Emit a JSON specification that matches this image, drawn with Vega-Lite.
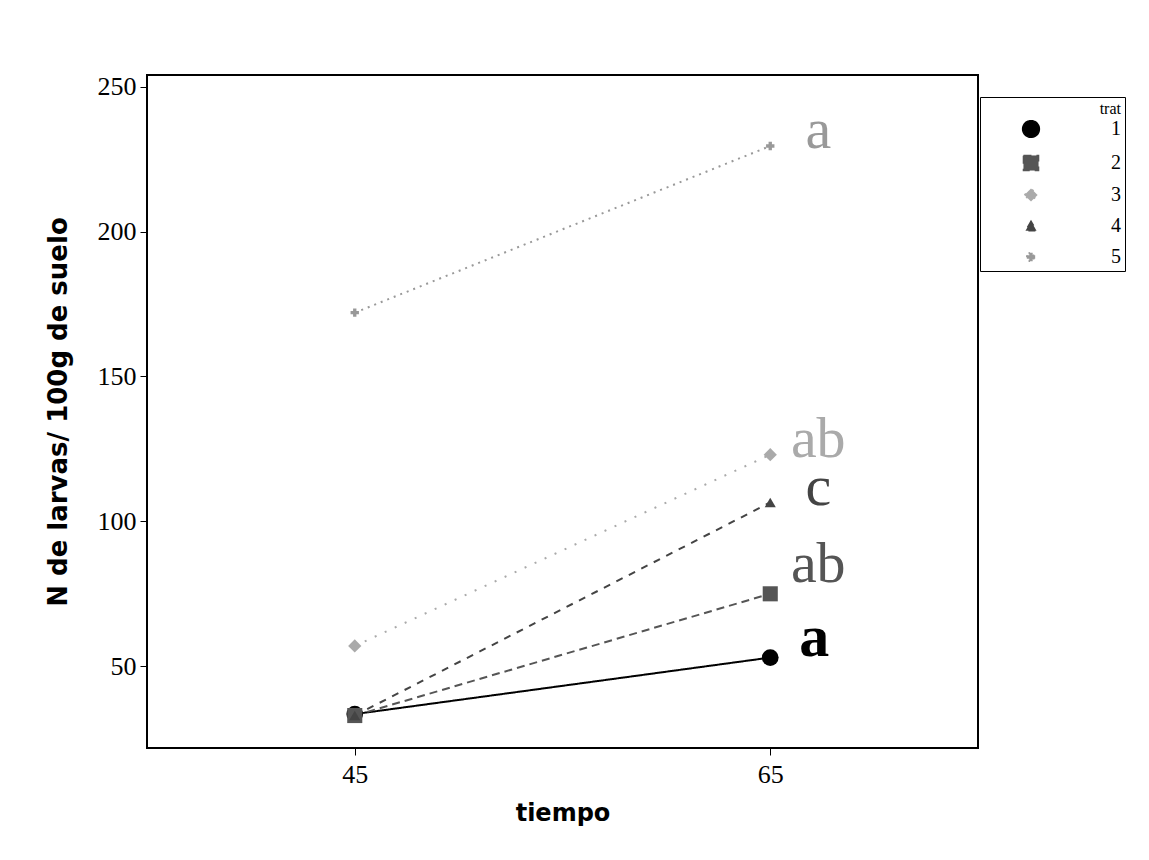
{
  "$schema": "https://vega.github.io/schema/vega-lite/v6.json",
  "autosize": {"type": "none"},
  "width": 831,
  "height": 673,
  "padding": {"left": 147, "top": 75, "right": 171, "bottom": 112},
  "background": "white",
  "config": {
    "view": {"stroke": "#000", "strokeWidth": 2},
    "axis": {
      "grid": false,
      "domain": false,
      "tickColor": "#000",
      "tickSize": 7,
      "labelFont": "Liberation Serif",
      "labelFontSize": 26,
      "labelColor": "#000",
      "titleFont": "DejaVu Sans",
      "titleFontWeight": "bold",
      "titleColor": "#000"
    }
  },
  "data": {
    "values": [
      {"tiempo": 45, "larvas": 33.5, "trat": "1", "letra": ""},
      {"tiempo": 65, "larvas": 53, "trat": "1", "letra": "a"},
      {"tiempo": 45, "larvas": 33, "trat": "2", "letra": ""},
      {"tiempo": 65, "larvas": 75, "trat": "2", "letra": "ab"},
      {"tiempo": 45, "larvas": 57, "trat": "3", "letra": ""},
      {"tiempo": 65, "larvas": 123, "trat": "3", "letra": "ab"},
      {"tiempo": 45, "larvas": 33, "trat": "4", "letra": ""},
      {"tiempo": 65, "larvas": 106.5, "trat": "4", "letra": "c"},
      {"tiempo": 45, "larvas": 172, "trat": "5", "letra": ""},
      {"tiempo": 65, "larvas": 229.5, "trat": "5", "letra": "a"}
    ]
  },
  "encoding": {
    "x": {
      "field": "tiempo",
      "type": "quantitative",
      "scale": {"domain": [35, 75], "nice": false, "zero": false},
      "axis": {"values": [45, 65], "title": "tiempo", "titleFontSize": 24, "labelPadding": 6, "titlePadding": 14}
    },
    "y": {
      "field": "larvas",
      "type": "quantitative",
      "scale": {"domain": [21.8, 254], "nice": false, "zero": false},
      "axis": {"values": [50, 100, 150, 200, 250], "title": "N de larvas/ 100g de suelo", "titleFontSize": 26, "labelPadding": 4, "titlePadding": 26}
    },
    "color": {
      "field": "trat",
      "type": "nominal",
      "scale": {"domain": ["1", "2", "3", "4", "5"], "range": ["#000000", "#555555", "#aaaaaa", "#444444", "#999999"]},
      "legend": {
        "title": "trat",
        "orient": "none",
        "legendX": 833,
        "legendY": 22,
        "strokeColor": "#000",
        "fillColor": "white",
        "padding": 4,
        "titlePadding": 2,
        "titleAnchor": "end",
        "titleFont": "Liberation Serif",
        "titleFontSize": 16,
        "titleFontWeight": "normal",
        "labelFont": "Liberation Serif",
        "labelFontSize": 20,
        "labelColor": "#000",
        "rowPadding": 11,
        "symbolOffset": 37,
        "labelOffset": 70,
        "symbolSize": 160,
        "symbolStrokeWidth": 1.5
      }
    }
  },
  "layer": [
    {
      "mark": {"type": "line", "strokeWidth": 2},
      "encoding": {
        "strokeDash": {
          "field": "trat",
          "type": "nominal",
          "scale": {"domain": ["1", "2", "3", "4", "5"], "range": [[1, 0], [8, 5], [2, 9], [7, 7], [2, 5]]},
          "legend": null
        }
      }
    },
    {
      "mark": {"type": "point", "filled": true, "opacity": 1},
      "encoding": {
        "shape": {
          "field": "trat",
          "type": "nominal",
          "scale": {"domain": ["1", "2", "3", "4", "5"], "range": ["circle", "square", "diamond", "triangle-up", "cross"]}
        },
        "size": {
          "field": "trat",
          "type": "nominal",
          "scale": {"domain": ["1", "2", "3", "4", "5"], "range": [280, 70, 90, 90, 90]},
          "legend": null
        }
      }
    },
    {
      "transform": [{"filter": "datum.tiempo == 65 && (datum.trat == '3' || datum.trat == '4' || datum.trat == '5')"}],
      "mark": {"type": "text", "font": "Liberation Serif", "fontSize": 58, "align": "center", "baseline": "alphabetic", "dx": 48, "dy": 2},
      "encoding": {"text": {"field": "letra"}}
    },
    {
      "transform": [{"filter": "datum.tiempo == 65 && datum.trat == '2'"}],
      "mark": {"type": "text", "font": "Liberation Serif", "fontSize": 58, "align": "center", "baseline": "alphabetic", "dx": 48, "dy": -12},
      "encoding": {"text": {"field": "letra"}}
    },
    {
      "transform": [{"filter": "datum.tiempo == 65 && datum.trat == '1'"}],
      "mark": {"type": "text", "font": "Liberation Serif", "fontSize": 60, "fontWeight": "bold", "align": "center", "baseline": "alphabetic", "dx": 44, "dy": -2},
      "encoding": {"text": {"field": "letra"}}
    }
  ]
}
